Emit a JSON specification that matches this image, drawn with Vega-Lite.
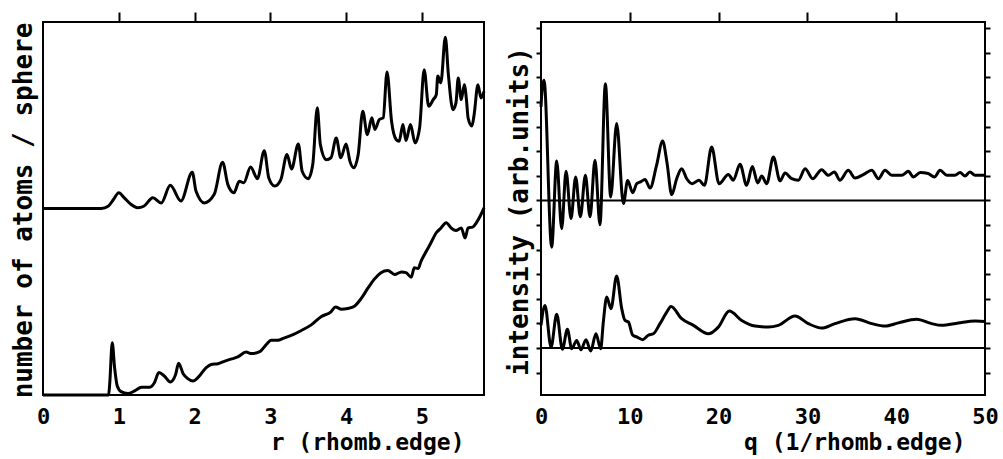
{
  "$schema": "https://vega.github.io/schema/vega-lite/v6.json",
  "padding": {"left": 9, "top": 10, "right": 5, "bottom": 5},
  "spacing": 57,
  "bounds": "flush",
  "config": {
    "font": "DejaVu Sans Mono",
    "view": {"stroke": "black", "strokeWidth": 2},
    "axis": {
      "labelFont": "DejaVu Sans Mono", "titleFont": "DejaVu Sans Mono",
      "labelColor": "black", "titleColor": "black", "tickColor": "black", "domainColor": "black",
      "labelFontWeight": "bold", "titleFontWeight": "bold", "tickWidth": 2, "grid": false
    }
  },
  "datasets": {
    "rdf_top": [
      {"r":0,"n":5.0},{"r":0.5,"n":5.0},{"r":0.77,"n":5.0},{"r":0.86,"n":5.06},{"r":0.93,"n":5.24},{"r":1.0,"n":5.42},{"r":1.07,"n":5.29},{"r":1.15,"n":5.13},{"r":1.25,"n":5.02},{"r":1.33,"n":5.06},{"r":1.45,"n":5.29},{"r":1.56,"n":5.15},{"r":1.68,"n":5.62},{"r":1.82,"n":5.2},{"r":1.97,"n":5.97},{"r":2.02,"n":5.46},{"r":2.13,"n":5.15},{"r":2.26,"n":5.38},{"r":2.37,"n":6.24},{"r":2.44,"n":5.64},{"r":2.52,"n":5.42},{"r":2.59,"n":5.73},{"r":2.65,"n":5.69},{"r":2.74,"n":6.11},{"r":2.83,"n":5.8},{"r":2.92,"n":6.55},{"r":2.98,"n":5.82},{"r":3.06,"n":5.6},{"r":3.14,"n":5.78},{"r":3.22,"n":6.45},{"r":3.28,"n":6.06},{"r":3.37,"n":6.73},{"r":3.42,"n":6.0},{"r":3.5,"n":5.8},{"r":3.56,"n":6.18},{"r":3.62,"n":7.7},{"r":3.66,"n":6.72},{"r":3.74,"n":6.31},{"r":3.8,"n":6.36},{"r":3.87,"n":6.89},{"r":3.93,"n":6.36},{"r":4.0,"n":6.73},{"r":4.05,"n":6.27},{"r":4.1,"n":6.09},{"r":4.16,"n":6.45},{"r":4.22,"n":7.61},{"r":4.28,"n":6.98},{"r":4.34,"n":7.43},{"r":4.38,"n":7.12},{"r":4.44,"n":7.39},{"r":4.49,"n":7.43},{"r":4.54,"n":8.66},{"r":4.6,"n":7.34},{"r":4.66,"n":6.85},{"r":4.7,"n":6.8},{"r":4.75,"n":7.25},{"r":4.79,"n":6.82},{"r":4.85,"n":7.25},{"r":4.91,"n":6.76},{"r":4.97,"n":7.16},{"r":5.03,"n":8.72},{"r":5.09,"n":7.74},{"r":5.15,"n":7.92},{"r":5.19,"n":8.05},{"r":5.21,"n":8.55},{"r":5.25,"n":8.37},{"r":5.31,"n":9.59},{"r":5.35,"n":8.59},{"r":5.41,"n":7.65},{"r":5.45,"n":7.83},{"r":5.48,"n":8.5},{"r":5.52,"n":7.92},{"r":5.56,"n":8.32},{"r":5.59,"n":7.88},{"r":5.61,"n":7.43},{"r":5.66,"n":7.21},{"r":5.69,"n":7.52},{"r":5.74,"n":8.32},{"r":5.78,"n":7.96},{"r":5.82,"n":8.14}
    ],
    "rdf_bot": [
      {"r":0,"n":0},{"r":0.5,"n":0},{"r":0.866,"n":0},{"r":0.88,"n":0.29},{"r":0.914,"n":1.4},{"r":0.945,"n":0.73},{"r":0.98,"n":0.24},{"r":1.03,"n":0.09},{"r":1.12,"n":0.04},{"r":1.21,"n":0.11},{"r":1.3,"n":0.21},{"r":1.41,"n":0.21},{"r":1.47,"n":0.33},{"r":1.53,"n":0.6},{"r":1.6,"n":0.51},{"r":1.68,"n":0.35},{"r":1.75,"n":0.55},{"r":1.79,"n":0.85},{"r":1.85,"n":0.57},{"r":1.91,"n":0.44},{"r":1.98,"n":0.375},{"r":2.05,"n":0.48},{"r":2.15,"n":0.73},{"r":2.22,"n":0.82},{"r":2.31,"n":0.84},{"r":2.4,"n":0.91},{"r":2.48,"n":0.96},{"r":2.57,"n":1.02},{"r":2.68,"n":1.15},{"r":2.75,"n":1.11},{"r":2.86,"n":1.16},{"r":2.95,"n":1.36},{"r":3.01,"n":1.47},{"r":3.1,"n":1.47},{"r":3.17,"n":1.52},{"r":3.25,"n":1.58},{"r":3.3,"n":1.62},{"r":3.41,"n":1.73},{"r":3.54,"n":1.88},{"r":3.67,"n":2.1},{"r":3.8,"n":2.23},{"r":3.86,"n":2.36},{"r":3.94,"n":2.3},{"r":4.02,"n":2.32},{"r":4.11,"n":2.38},{"r":4.2,"n":2.59},{"r":4.29,"n":2.87},{"r":4.37,"n":3.1},{"r":4.46,"n":3.28},{"r":4.55,"n":3.34},{"r":4.64,"n":3.23},{"r":4.73,"n":3.3},{"r":4.79,"n":3.28},{"r":4.86,"n":3.16},{"r":4.9,"n":3.41},{"r":4.95,"n":3.39},{"r":4.99,"n":3.59},{"r":5.06,"n":3.86},{"r":5.12,"n":4.08},{"r":5.19,"n":4.35},{"r":5.25,"n":4.47},{"r":5.32,"n":4.62},{"r":5.39,"n":4.47},{"r":5.45,"n":4.41},{"r":5.52,"n":4.48},{"r":5.57,"n":4.21},{"r":5.61,"n":4.48},{"r":5.67,"n":4.5},{"r":5.72,"n":4.62},{"r":5.78,"n":4.84},{"r":5.82,"n":5.02}
    ],
    "sq_top": [
      {"q":0,"i":9.8},{"q":0.15,"i":10.6},{"q":0.34,"i":10.88},{"q":1.2,"i":4.1},{"q":1.77,"i":7.6},{"q":2.33,"i":4.85},{"q":2.82,"i":7.18},{"q":3.38,"i":5.26},{"q":3.9,"i":6.95},{"q":4.43,"i":5.33},{"q":5.0,"i":7.02},{"q":5.52,"i":5.33},{"q":6.08,"i":7.63},{"q":6.64,"i":5.01},{"q":7.25,"i":10.74},{"q":7.85,"i":6.14},{"q":8.52,"i":9.12},{"q":9.28,"i":5.87},{"q":9.76,"i":6.81},{"q":10.33,"i":6.31},{"q":10.78,"i":6.68},{"q":11.2,"i":6.75},{"q":11.71,"i":6.85},{"q":12.28,"i":6.5},{"q":13.0,"i":7.4},{"q":13.7,"i":8.41},{"q":14.2,"i":7.5},{"q":14.72,"i":6.23},{"q":15.28,"i":6.88},{"q":15.84,"i":7.29},{"q":16.41,"i":6.88},{"q":17.04,"i":6.68},{"q":17.8,"i":6.82},{"q":18.4,"i":6.61},{"q":19.22,"i":8.17},{"q":20.05,"i":6.68},{"q":21.1,"i":7.05},{"q":21.66,"i":6.82},{"q":22.41,"i":7.47},{"q":23.16,"i":6.61},{"q":23.8,"i":7.38},{"q":24.4,"i":6.71},{"q":24.86,"i":6.99},{"q":25.42,"i":6.68},{"q":26.17,"i":7.76},{"q":26.92,"i":6.79},{"q":27.48,"i":7.11},{"q":28.23,"i":6.88},{"q":28.98,"i":6.82},{"q":29.74,"i":7.29},{"q":30.6,"i":6.88},{"q":31.6,"i":7.25},{"q":32.36,"i":7.02},{"q":33.04,"i":7.15},{"q":33.67,"i":6.82},{"q":34.6,"i":7.22},{"q":35.37,"i":6.91},{"q":36.3,"i":7.05},{"q":37.25,"i":7.22},{"q":38.0,"i":6.88},{"q":38.74,"i":7.22},{"q":39.5,"i":7.02},{"q":40.62,"i":7.02},{"q":41.37,"i":7.18},{"q":41.94,"i":6.95},{"q":42.7,"i":7.13},{"q":43.6,"i":7.09},{"q":44.3,"i":6.95},{"q":44.94,"i":7.22},{"q":45.7,"i":7.02},{"q":46.62,"i":7.02},{"q":47.19,"i":7.13},{"q":47.75,"i":6.99},{"q":48.3,"i":7.15},{"q":48.88,"i":7.02},{"q":50,"i":7.02}
    ],
    "sq_bot": [
      {"q":0,"i":0.92},{"q":0.45,"i":1.73},{"q":1.13,"i":0.04},{"q":1.77,"i":1.37},{"q":2.41,"i":-0.05},{"q":2.97,"i":0.76},{"q":3.46,"i":-0.03},{"q":4.02,"i":0.31},{"q":4.5,"i":-0.07},{"q":5.07,"i":0.34},{"q":5.6,"i":-0.12},{"q":6.19,"i":0.58},{"q":6.72,"i":-0.03},{"q":7.02,"i":1.06},{"q":7.4,"i":2.07},{"q":7.88,"i":1.6},{"q":8.52,"i":2.93},{"q":9.09,"i":1.6},{"q":9.46,"i":1.12},{"q":9.84,"i":1.06},{"q":10.33,"i":0.52},{"q":10.78,"i":0.45},{"q":11.45,"i":0.34},{"q":12.09,"i":0.52},{"q":12.66,"i":0.58},{"q":13.4,"i":0.99},{"q":14.16,"i":1.46},{"q":14.64,"i":1.69},{"q":15.84,"i":1.19},{"q":17.16,"i":0.92},{"q":18.85,"i":0.58},{"q":19.97,"i":0.85},{"q":21.21,"i":1.5},{"q":22.6,"i":1.12},{"q":24.1,"i":0.89},{"q":25.6,"i":0.85},{"q":26.73,"i":0.92},{"q":28.6,"i":1.3},{"q":30.1,"i":0.99},{"q":31.61,"i":0.81},{"q":33.1,"i":0.99},{"q":35.37,"i":1.19},{"q":37.25,"i":0.99},{"q":38.74,"i":0.89},{"q":40.25,"i":1.02},{"q":42.3,"i":1.17},{"q":44.0,"i":0.99},{"q":45.1,"i":0.92},{"q":47.0,"i":1.02},{"q":48.9,"i":1.1},{"q":50,"i":1.08}
    ],
    "base": [{"v":0},{"v":6}]
  },
  "hconcat": [
    {
      "width": 441, "height": 373,
      "layer": [
        {
          "data": {"name": "rdf_top"},
          "mark": {"type": "line", "interpolate": "monotone", "color": "black", "strokeWidth": 3},
          "encoding": {
            "x": {"field": "r", "type": "quantitative", "scale": {"domain": [0, 5.82], "nice": false, "zero": false},
              "axis": {"orient": "bottom", "values": [0,1,2,3,4,5], "ticks": false, "domain": false, "labelFontSize": 22, "labelPadding": 28, "labelBaseline": "alphabetic", "labelFlush": false,
                "title": "r (rhomb.edge)", "titleFontSize": 23, "titleX": 421, "titleY": 54, "titleAlign": "right", "titleBaseline": "alphabetic", "titleAnchor": "end"}},
            "y": {"field": "n", "type": "quantitative", "scale": {"domain": [0, 10], "nice": false},
              "axis": {"orient": "left", "labels": false, "ticks": false, "domain": false, "title": "number of atoms / sphere", "titleFontSize": 26, "titleX": -20, "titleY": 188, "titleBaseline": "middle", "titleAlign": "center", "titleAngle": -90}}
          }
        },
        {
          "data": {"name": "rdf_bot"},
          "mark": {"type": "line", "interpolate": "monotone", "color": "black", "strokeWidth": 3},
          "encoding": {
            "x": {"field": "r", "type": "quantitative", "scale": {"domain": [0, 5.82], "nice": false, "zero": false},
              "axis": {"orient": "top", "values": [1,2,3,4,5], "tickSize": 10, "labels": false, "domain": false, "title": null}},
            "y": {"field": "n", "type": "quantitative", "scale": {"domain": [0, 10], "nice": false}, "axis": null}
          }
        }
      ],
      "resolve": {"axis": {"x": "independent", "y": "independent"}}
    },
    {
      "width": 444, "height": 373,
      "layer": [
        {
          "data": {"name": "sq_top"},
          "mark": {"type": "line", "interpolate": "monotone", "color": "black", "strokeWidth": 3},
          "encoding": {
            "x": {"field": "q", "type": "quantitative", "scale": {"domain": [0, 50], "nice": false, "zero": false},
              "axis": {"orient": "bottom", "values": [0,10,20,30,40,50], "ticks": false, "domain": false, "labelFontSize": 22, "labelPadding": 28, "labelBaseline": "alphabetic", "labelFlush": false,
                "title": "q (1/rhomb.edge)", "titleFontSize": 23, "titleX": 424, "titleY": 54, "titleAlign": "right", "titleBaseline": "alphabetic", "titleAnchor": "end"}},
            "y": {"field": "i", "type": "quantitative", "scale": {"domain": [-1.91, 13.25], "nice": false, "zero": false},
              "axis": {"orient": "left", "values": [-1,0,1,2,3,4,5,6,7,8,9,10,11,12,13], "tickSize": 5, "labels": false, "domain": false, "title": "intensity (arb.units)", "titleFontSize": 26, "titleX": -22, "titleY": 189, "titleBaseline": "middle", "titleAlign": "center", "titleAngle": -90}}
          }
        },
        {
          "data": {"name": "sq_bot"},
          "mark": {"type": "line", "interpolate": "monotone", "color": "black", "strokeWidth": 3},
          "encoding": {
            "x": {"field": "q", "type": "quantitative", "scale": {"domain": [0, 50], "nice": false, "zero": false},
              "axis": {"orient": "top", "values": [10,20,30,40], "tickSize": 10, "labels": false, "domain": false, "title": null}},
            "y": {"field": "i", "type": "quantitative", "scale": {"domain": [-1.91, 13.25], "nice": false, "zero": false},
              "axis": {"orient": "right", "values": [-1,0,1,2,3,4,5,6,7,8,9,10,11,12,13], "tickSize": 5, "labels": false, "domain": false, "title": null}}
          }
        },
        {
          "data": {"name": "base"},
          "mark": {"type": "rule", "color": "black", "strokeWidth": 2},
          "encoding": {
            "y": {"field": "v", "type": "quantitative", "scale": {"domain": [-1.91, 13.25], "nice": false, "zero": false}, "axis": null}
          }
        }
      ],
      "resolve": {"axis": {"x": "independent", "y": "independent"}}
    }
  ]
}
